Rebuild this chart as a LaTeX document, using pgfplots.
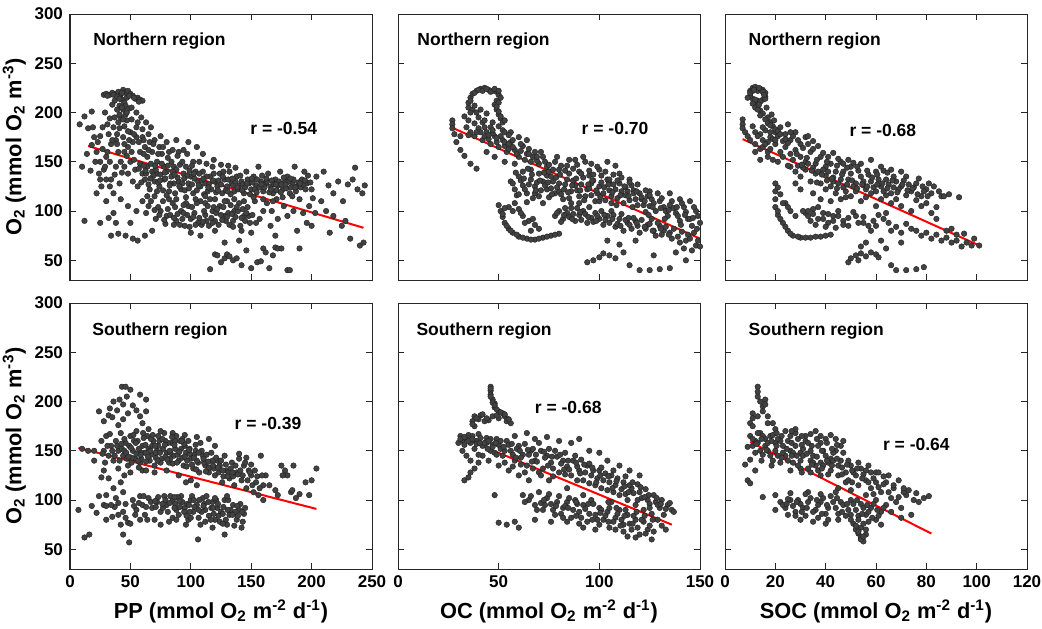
\documentclass[border=0pt]{standalone}
\usepackage{fontspec}
\setmainfont{Liberation Sans}
\usepackage{pgfplots}
\pgfplotsset{compat=1.18}

\pgfplotsset{
  panel/.style={
    scale only axis, width=151pt, height=133pt,
    ymin=30, ymax=300, ytick={50,100,...,300},
    tick align=inside, tick pos=both,
    major tick length=3pt,
    axis line style={black!85, line width=0.5pt},
    every tick/.style={black!85, line width=0.5pt},
    /pgf/number format/assume math mode=true,
    tick label style={font=\bfseries\fontsize{8.5}{10}\selectfont},
    label style={font=\bfseries\fontsize{10.9}{12}\selectfont},
    ylabel shift=-2.5pt, xlabel shift=-1pt,
    clip=false,
  },
  pts/.style={only marks, mark=*, mark size=1.4pt,
    mark options={draw=black!88, fill=black!74, line width=0.2pt}},
  fit/.style={red, line width=1pt, no marks},
}
\tikzset{tag/.style={anchor=west, inner sep=0pt, font=\bfseries\fontsize{8.75}{10}\selectfont}}

\begin{document}
\begin{tikzpicture}
\useasboundingbox (0,0) rectangle (521pt,314pt);

% ---------------- top row: northern region ----------------
\begin{axis}[panel, at={(35pt,174pt)}, anchor=south west,
  xmin=0, xmax=250, xtick={0,50,...,250}, xticklabels={},
  ylabel={O\textsubscript{2} (mmol O\textsubscript{2} m\textsuperscript{-3})}]
\addplot[pts] coordinates {
(28,218)(30,219)(33,218)(35,220)(38,219)(40,221)(42,218)(44,223)(46,220)(48,222)(50,219)(52,217)(54,214)(56,215)(58,213)(60,212)(43,213)(45,210)(47,215)(41,207)(44,203)(46,198)(42,195)(40,190)(47,192)(45,186)
(8,188)(12,196)(18,201)(15,184)(10,145)(14,158)(18,167)(20,175)(22,160)(25,150)(24,138)(28,142)(30,155)(32,178)(34,168)(36,185)(38,172)(30,132)(34,132)(38,145)(26,125)(22,118)(36,118)(40,160)(42,150)(44,175)(48,165)(50,180)(52,170)(55,185)(58,160)(60,175)(62,165)(64,155)(66,170)(68,160)(70,172)(72,150)(74,165)(76,158)(78,145)(80,170)(82,160)(84,150)(86,145)(88,172)(90,160)(94,162)(98,170)(105,165)(110,158)(102,150)
(45,145)(48,138)(50,150)(52,130)(54,142)(56,125)(58,148)(60,138)(62,132)(64,145)(66,122)(68,140)(70,130)(72,138)(74,125)(76,148)(78,132)(80,140)(82,120)(84,135)(86,128)(88,142)(90,130)(92,122)(94,138)(96,145)(98,128)(100,135)(102,118)(104,140)(106,130)(108,125)(110,140)(112,128)(114,120)(116,135)(118,145)(120,130)(122,125)(124,138)(126,118)(128,132)(130,125)(132,140)(134,128)(136,120)(138,135)(140,126)(142,130)(144,118)(146,140)(148,128)(150,122)(152,135)(154,126)(156,145)(158,130)(160,120)(162,128)(164,138)(166,125)(168,118)(170,132)(172,126)(174,140)(176,122)(178,130)(180,135)(182,118)(184,128)(186,145)(188,125)(190,112)(192,132)(194,140)(196,128)(198,105)(200,122)(204,135)(208,110)(210,140)(214,126)(218,118)(222,130)(226,110)(230,127)(234,132)(238,122)(242,118)(236,144)(244,126)
(212,100)(218,95)(225,85)(232,72)(240,65)(243,68)(203,98)(196,88)(188,80)(180,95)(172,92)(166,85)(160,100)(154,88)(148,95)(142,80)(135,90)
(60,110)(65,105)(70,115)(75,100)(80,95)(85,108)(88,90)(92,100)(95,85)(98,105)(100,92)(103,98)(106,88)(108,110)(112,96)(115,85)(118,100)(120,90)(124,105)(128,95)(130,110)(132,86)(136,100)(140,108)(144,95)(112,108)(116,112)(96,114)(82,112)(55,100)(48,105)(42,112)(36,98)(30,110)(50,88)(38,88)
(12,90)(25,88)(32,93)(34,75)(40,77)(46,75)(52,72)(56,70)(62,75)(68,80)(100,78)(108,75)(120,80)(128,68)(140,70)(150,78)(160,62)(170,75)(190,62)(200,85)(215,78)(228,90)
(116,41)(120,56)(122,55)(125,48)(128,52)(130,56)(132,54)(135,50)(138,52)(142,45)(146,60)(150,42)(155,48)(158,49)(162,58)(165,42)(170,63)(172,62)(175,62)(180,40)(182,40)(168,55)
(31,217)(36,218)(39,216)(43,220)(49,217)(53,215)(57,211)(37,212)(41,214)(46,207)(49,204)(44,193)(41,184)(48,181)(39,178)(35,172)(31,160)(27,163)(21,150)(17,141)(25,132)(33,125)(37,137)(41,128)(43,139)(47,156)(51,160)(53,152)(57,143)(59,129)(61,146)(63,138)(65,127)(67,148)(69,136)(71,142)(73,129)(75,137)(77,121)(79,133)(81,146)(83,128)(85,140)(87,118)(89,134)(91,147)(93,128)(95,121)(97,136)(99,141)(101,127)(103,133)(105,121)(107,138)(109,131)(111,117)(113,135)(115,127)(117,122)(119,138)(121,119)(123,131)(125,127)(127,140)(129,121)(131,132)(133,117)(135,126)(137,130)(139,122)(141,136)(143,127)(145,124)(147,132)(149,117)(151,129)(153,122)(155,132)(157,124)(159,136)(161,124)(163,130)(165,119)(167,131)(169,127)(171,121)(173,130)(175,127)(177,134)(179,123)(181,130)(183,124)(185,132)(187,120)(189,129)(191,124)(193,127)(195,122)(197,136)(199,129)(201,113)
(63,98)(67,110)(71,92)(73,104)(77,110)(79,87)(83,96)(87,104)(89,97)(91,86)(93,92)(97,96)(99,84)(101,104)(105,108)(107,93)(109,86)(111,100)(113,90)(117,93)(119,104)(121,98)(123,86)(125,96)(127,104)(129,90)(131,98)(133,106)(135,84)(137,94)(139,100)(141,85)(143,102)(145,90)(147,104)(149,88)(151,96)(153,110)(157,92)(163,108)(167,100)(171,112)(177,105)(185,100)(193,98)
(57,170)(61,158)(65,162)(69,168)(73,158)(77,165)(81,154)(85,162)(89,156)(93,150)(97,158)(101,146)(107,150)(113,148)(119,152)(125,147)(131,146)(137,144)(75,176)(65,178)(55,175)(45,168)(51,193)(56,190)(60,183)
(62.5,141)(66.5,133)(70.5,146)(74.5,131)(78.5,139)(82.5,126)(86.5,137)(90.5,125)(94.5,133)(98.5,123)(102.5,138)(106.5,126)(110.5,133)(114.5,124)(118.5,131)(122.5,121)(126.5,135)(130.5,120)(134.5,133)(138.5,124)(142.5,121)(146.5,128)(150.5,133)(154.5,119)(158.5,127)(162.5,133)(166.5,122)(170.5,127)(174.5,119)(178.5,127)(182.5,133)(186.5,124)(190.5,128)(194.5,131)(64,115)(72,120)(80,116)(88,112)(96,108)(104,112)(112,115)(120,112)(128,110)(136,112)(144,110)(152,114)(160,112)(168,110)(176,114)(184,115)
(74,96)(81,102)(86,93)(94,98)(102,94)(110,89)(114,105)(122,102)(126,91)(134,97)(138,104)(146,98)(94,106)(104,86)(118,88)(130,94)(142,93)(86,86)(78,91)(70,101)
(23,170)(27,185)(33,194)(37,195)(39,203)(41,198)(35,208)(29,200)(25,176)(19,185)(31,188)(43,205)(47,200)(51,205)(55,200)(59,195)(63,190)(67,185)(61,172)(53,178)(49,172)(45,160)(39,168)(33,150)(29,145)
};
\addplot[fit] coordinates {(15,166)(243,83)};
\node[tag] at (rel axis cs:0.076,0.9) {Northern region};
\node[tag] at (rel axis cs:0.596,0.571) {r = -0.54};
\end{axis}

\begin{axis}[panel, at={(199pt,174pt)}, anchor=south west,
  xmin=0, xmax=150, xtick={0,50,...,150}, xticklabels={}, yticklabels={}]
\addplot[pts] coordinates {
(35,205)(35,210)(36,215)(37,219)(39,222)(41,224)(43,225)(45,223)(47,222)(49,221)(50,218)(49,212)(48,208)(49,203)(50,198)(51,194)(52,190)(37,203)(39,200)(41,203)(44,199)
(27,192)(27,188)(27,184)(28,178)(29,170)(31,162)(33,156)(36,148)(39,143)(31,176)
(34,185)(36,180)(38,176)(40,184)(42,172)(44,180)(46,168)(48,176)(50,165)(52,172)(54,160)(56,170)(58,162)(60,155)(62,166)(64,158)(66,150)(68,160)(70,148)(72,155)(74,145)(52,182)(56,180)(60,175)(64,172)(44,160)(48,155)(53,150)(58,148)(62,140)(66,142)(70,138)(74,136)(78,150)(80,142)(84,146)(88,152)(92,155)(96,148)(90,140)(100,142)(104,150)(108,146)(110,138)(46,185)(42,190)(40,195)
(56,130)(58,122)(60,135)(62,126)(64,118)(66,132)(68,125)(70,115)(72,130)(74,122)(76,135)(78,118)(80,128)(82,112)(84,132)(86,120)(88,126)(90,115)(92,134)(94,122)(96,128)(98,110)(100,125)(102,118)(104,132)(106,115)(108,122)(110,128)(112,108)(114,120)(116,126)(118,112)(120,118)(122,106)(124,115)(126,112)(128,100)(130,110)(132,104)(134,95)(136,110)(138,98)(140,90)(142,104)(144,92)(146,85)(148,100)(150,88)(75,140)(85,138)(95,136)(105,132)(115,132)(125,120)(135,118)(140,112)(145,110)(80,120)(90,108)(100,110)
(50,106)(51,100)(52,94)(53,88)(55,82)(57,78)(60,74)(64,72)(68,71)(72,73)(76,75)(80,77)(55,104)(58,108)(60,102)(62,95)(65,90)(68,86)(66,80)(70,82)
(78,95)(80,100)(82,92)(84,98)(86,103)(88,90)(90,96)(92,100)(94,88)(96,93)(98,98)(100,92)(102,86)(104,95)(106,100)(108,84)(110,92)(112,80)(114,88)(116,82)(118,90)(120,78)(124,86)(128,75)(132,80)(136,72)(140,68)(144,76)(148,65)(150,64)(142,62)(146,60)(130,85)(126,92)
(94,48)(97,50)(100,53)(102,57)(105,55)(108,52)(112,58)(115,45)(120,40)(125,40)(130,41)(135,42)(127,55)(138,58)(143,50)(110,66)(104,70)(118,70)
(36,212)(38,220)(40,223)(42,222)(44,224)(46,221)(48,224)(50,222)(51,215)(50,210)(49,206)(50,201)(51,196)(53,192)(38,207)(36,200)(33,196)(35,192)(38,189)(43,192)(47,190)(50,186)(53,180)(55,177)
(41,180)(43,176)(45,173)(47,179)(49,170)(51,176)(53,166)(55,163)(57,172)(59,158)(61,161)(63,152)(65,163)(67,155)(69,151)(71,160)(73,150)(75,147)(77,142)(79,155)(81,146)(83,141)(85,152)(87,143)(89,147)(91,138)(93,150)(95,141)(97,137)(99,145)(101,136)(103,140)(105,128)(107,137)(109,131)(111,134)(113,124)(115,129)(117,121)(119,127)(121,112)(123,121)(125,116)(127,108)(129,118)(131,113)(133,100)(135,106)(137,103)(139,95)(141,108)(143,99)(145,92)(147,104)(149,95)
(57,128)(59,116)(61,131)(63,122)(65,127)(67,113)(69,129)(71,121)(73,126)(75,114)(77,130)(79,124)(81,117)(83,127)(85,113)(87,131)(89,121)(91,127)(93,115)(95,123)(97,131)(99,118)(101,129)(103,111)(105,121)(107,127)(109,113)(111,120)(113,116)(115,111)(117,118)(119,106)(121,114)(123,99)(125,105)(60,117)(64,109)(68,118)(72,108)(76,123)(86,108)(96,116)(106,108)
(79,98)(81,89)(83,103)(85,94)(87,97)(89,103)(91,91)(93,97)(95,104)(97,89)(99,95)(101,100)(103,91)(105,88)(107,96)(109,87)(111,97)(113,91)(115,86)(117,93)(119,85)(121,91)(123,82)(125,87)(127,80)(129,88)(131,76)(133,84)(135,78)(137,82)(139,74)(141,79)(143,70)(145,72)(147,78)(149,70)
(54,85)(56,80)(59,76)(62,73)(66,71)(70,72)(74,74)(78,76)(52,97)(53,103)(57,100)(61,98)(63,88)(67,92)
(58.5,139)(62.5,133)(66.5,137)(70.5,131)(74.5,129)(78.5,134)(82.5,122)(86.5,126)(90.5,121)(94.5,127)(98.5,121)(102.5,124)(106.5,119)(110.5,116)(114.5,115)(118.5,120)(122.5,110)(126.5,104)(130.5,103)(134.5,101)(138.5,104)(142.5,96)(146.5,93)(68.5,121)(76.5,117)(84.5,119)(92.5,111)(100.5,114)(108.5,106)(116.5,104)(124.5,96)(132.5,92)(140.5,86)(148.5,82)(64.5,143)(72.5,139)(80.5,137)(88.5,133)(96.5,131)(104.5,127)(112.5,125)
(82.5,96)(86.5,92)(90.5,99)(94.5,94)(98.5,90)(102.5,96)(106.5,92)(110.5,85)(114.5,93)(118.5,88)(122.5,84)(126.5,80)(130.5,82)(134.5,76)
(45,177)(49,174)(53,170)(57,165)(61,168)(65,158)(69,155)(43,185)(39,180)(35,177)(47,182)(55,168)
};
\addplot[fit] coordinates {(26.5,185)(150,72)};
\node[tag] at (rel axis cs:0.063,0.9) {Northern region};
\node[tag] at (rel axis cs:0.607,0.571) {r = -0.70};
\end{axis}

\begin{axis}[panel, at={(362.5pt,174pt)}, anchor=south west,
  xmin=0, xmax=120, xtick={0,20,...,120}, xticklabels={}, yticklabels={}]
\addplot[pts] coordinates {
(10,222)(11,225)(12,224)(13,222)(15,223)(16,220)(16,216)(15,213)(13,212)(11,214)(10,217)(12,210)(13,206)(14,202)(15,199)(17,195)(18,190)(19,186)(9,215)
(7,193)(7,188)(7,184)(8,180)(9,176)(10,172)(12,168)(14,163)
(11,186)(12,180)(14,178)(16,182)(18,175)(20,180)(22,185)(24,178)(25,188)(26,172)(28,180)(30,168)(32,175)(33,176)(35,171)(20,168)(22,160)(24,165)(26,158)(28,162)(30,155)(32,150)(34,160)(36,148)(38,155)(40,145)(17,160)(19,152)(14,152)(12,160)
(26,145)(28,140)(30,135)(32,142)(34,130)(36,138)(38,128)(40,136)(42,125)(44,140)(46,132)(48,120)(50,138)(52,128)(54,135)(56,122)(58,130)(60,140)(62,125)(64,132)(66,118)(68,130)(70,125)(72,135)(74,120)(76,128)(78,115)(80,122)(82,118)(42,148)(46,150)(50,145)(54,148)(58,152)(62,145)(66,142)(70,140)(38,112)(42,110)(46,112)(50,115)(54,110)(58,118)(62,112)(66,108)(70,105)(74,100)(78,105)(82,98)(60,105)(64,98)(35,118)(30,122)(28,128)
(20,128)(20,120)(20,112)(20,104)(21,96)(23,88)(25,80)(27,75)(30,73)(34,73)(38,74)(42,76)(24,108)(26,100)(28,95)(32,98)(34,90)(36,86)
(31,100)(33,95)(35,102)(37,92)(39,98)(41,88)(43,95)(45,100)(47,90)(49,85)(44,83)(40,84)(52,95)(55,88)(58,80)(60,85)(63,92)(66,80)(70,78)(74,82)(78,75)(82,72)(86,70)(90,68)(94,64)(98,65)(101,65)(88,80)(92,76)(84,92)(86,115)(93,114)
(49,48)(50,52)(52,55)(54,57)(56,54)(58,58)(60,56)(61,53)(53,50)(66,45)(68,40)(72,40)(76,41)(79,43)(64,62)(70,68)(62,70)(56,68)(54,64)
(10,220)(11,222)(12,226)(14,224)(15,221)(16,214)(14,211)(12,213)(11,209)(12,205)(13,203)(14,197)(16,193)(17,189)(18,187)(20,183)(21,181)
(13,176)(15,172)(17,170)(19,173)(21,176)(23,171)(25,169)(27,176)(29,172)(31,164)(33,168)(35,163)(37,166)(39,159)(41,155)(43,159)(45,153)(47,148)(49,152)(51,149)(15,165)(17,155)(21,150)(23,155)(25,146)(27,152)(29,146)(31,144)(33,148)(35,144)(37,140)
(39,142)(41,140)(43,134)(45,128)(47,140)(49,132)(51,125)(53,141)(55,130)(57,137)(59,124)(61,132)(63,141)(65,127)(67,135)(69,122)(71,131)(73,127)(75,124)(77,133)(79,120)(81,128)(83,125)(85,120)(87,115)(89,117)(40,122)(44,118)(48,114)(52,120)(56,114)(60,120)(64,116)(68,112)(72,116)(76,111)(80,108)(84,104)(43,130)(47,124)(55,126)(63,120)(67,124)
(33,100)(35,97)(37,104)(39,92)(41,97)(43,90)(45,95)(47,86)(49,93)(51,99)(53,88)(55,94)(57,85)(59,90)(61,96)(65,88)(68,84)(72,87)(76,80)(80,78)(84,76)(88,73)(92,70)(96,68)(90,82)(95,77)(99,72)
(21,100)(22,92)(24,84)(26,77)(29,74)(32,73)(36,74)(40,75)(22,117)(21,124)(23,108)(25,104)
(30.5,147)(34.5,141)(38.5,137)(42.5,133)(46.5,137)(50.5,131)(54.5,127)(58.5,134)(62.5,128)(66.5,131)(70.5,127)(74.5,123)(78.5,125)(36.5,129)(40.5,131)(44.5,123)(48.5,127)(52.5,123)(56.5,125)(60.5,127)(64.5,123)(68.5,119)(72.5,121)(76.5,117)(80.5,115)(28.5,158)(32.5,154)(36.5,152)(40.5,150)(44.5,146)(48.5,144)(52.5,145)(56.5,141)(60.5,137)(64.5,139)
(11.5,223)(13.5,225)(15.5,218)(13.5,208)(16.5,205)(18.5,198)(19.5,192)
(15,185)(18,180)(22,178)(26,180)(20,172)(24,173)(16,168)(18,163)
};
\addplot[fit] coordinates {(7,173)(101.5,64.5)};
\node[tag] at (rel axis cs:0.077,0.9) {Northern region};
\node[tag] at (rel axis cs:0.411,0.562) {r = -0.68};
\end{axis}

% ---------------- bottom row: southern region ----------------
\begin{axis}[panel, at={(35pt,29.5pt)}, anchor=south west,
  xmin=0, xmax=250, xtick={0,50,...,250},
  xlabel={PP (mmol O\textsubscript{2} m\textsuperscript{-2} d\textsuperscript{-1})},
  ylabel={O\textsubscript{2} (mmol O\textsubscript{2} m\textsuperscript{-3})}]
\addplot[pts] coordinates {
(43,215)(46,215)(50,212)(58,207)(63,202)(41,202)(44,197)(39,191)(33,193)(32,186)(28,180)(24,190)(55,191)(63,190)(48,188)(52,196)(47,205)(36,200)(35,184)(44,182)(58,185)(60,178)(40,176)
(26,160)(28,150)(30,165)(32,145)(34,155)(36,140)(38,160)(40,150)(42,168)(44,145)(46,158)(48,135)(50,165)(52,150)(54,142)(56,160)(58,138)(60,155)(62,148)(64,165)(66,140)(68,155)(70,135)(72,150)(74,160)(76,142)(78,168)(80,148)(82,138)(84,158)(86,145)(88,165)(90,140)(92,152)(94,135)(96,148)(98,160)(100,142)(102,132)(104,150)(106,138)(108,158)(110,145)(55,170)(65,172)(75,170)(85,168)(95,166)(105,164)(60,130)(70,128)(80,130)(90,125)(50,128)(40,132)(45,125)(115,162)(120,155)(122,140)(112,135)
(115,128)(118,140)(120,125)(124,135)(126,118)(128,145)(130,130)(132,122)(134,138)(136,115)(138,128)(140,142)(142,120)(144,135)(146,112)(148,130)(150,125)(152,108)(154,118)(156,105)(158,145)(160,115)(100,120)(105,115)(96,118)
(52,100)(55,90)(58,104)(60,95)(62,85)(65,102)(68,92)(70,80)(72,98)(75,88)(78,104)(80,95)(82,78)(85,100)(88,90)(90,85)(92,104)(95,92)(98,80)(100,100)(102,88)(105,95)(108,75)(110,102)(112,90)(115,84)(118,98)(120,80)(122,92)(125,88)(128,100)(130,75)(132,85)(135,95)(138,80)(140,90)(142,72)(144,86)(128,65)(118,72)(106,60)(96,75)(85,82)(75,75)
(7,90)(12,62)(16,65)(18,94)(22,87)(24,104)(28,95)(30,80)(32,122)(35,83)(37,93)(40,97)(42,75)(44,65)(46,96)(48,77)(49,57)(36,112)(44,108)(42,118)(20,150)(15,150)(10,152)(30,105)(38,102)(26,123)(28,130)(20,140)
(162,125)(165,115)(170,110)(175,135)(178,130)(180,125)(183,108)(185,135)(187,102)(190,106)(195,118)(198,105)(200,120)(204,132)(172,105)(176,125)(184,110)(146,143)(150,136)(140,147)(155,124)(160,100)
(27,147)(29,138)(31,155)(33,167)(35,150)(37,145)(39,155)(41,140)(43,152)(45,162)(47,142)(49,155)(51,138)(53,160)(55,147)(57,152)(59,142)(61,163)(63,139)(65,152)(67,146)(69,160)(71,143)(73,155)(75,138)(77,152)(79,144)(81,158)(83,148)(85,137)(87,152)(89,146)(91,160)(93,143)(95,155)(97,140)(99,152)(101,136)(103,146)(105,140)(107,128)(109,150)(111,138)(113,146)(115,133)(117,148)(119,132)(121,143)(123,128)(125,140)(127,124)(129,136)(131,128)(133,132)(135,124)(137,135)(139,126)(141,130)(143,125)(145,138)(147,120)(149,128)(151,115)(153,130)(157,112)(159,125)(51,143)(57,133)(63,130)(67,162)(73,165)(79,160)(87,160)(93,162)(99,147)(59,148)(45,150)(71,148)(83,142)(95,144)(104,156)
(53,94)(57,97)(61,104)(63,93)(67,98)(71,93)(73,103)(77,92)(79,100)(81,88)(83,104)(87,96)(89,103)(91,93)(93,98)(97,96)(99,88)(101,104)(103,93)(107,100)(109,88)(111,96)(113,104)(117,92)(119,86)(121,100)(123,84)(127,93)(129,80)(131,100)(133,90)(137,88)(139,84)(141,96)(143,78)(145,92)(112,78)(124,78)(136,74)(100,82)(88,80)(64,80)(120,102)(130,104)
(44,88)(46,82)(50,76)(54,85)(58,80)(40,85)(34,95)(30,94)
(42.5,157)(46.5,148)(50.5,153)(54.5,158)(58.5,146)(62.5,156)(66.5,150)(70.5,155)(74.5,148)(78.5,156)(82.5,150)(86.5,156)(90.5,149)(94.5,157)(98.5,151)(102.5,143)(106.5,148)(110.5,142)(114.5,139)(118.5,135)(122.5,133)(126.5,130)(130.5,124)(134.5,128)(48.5,144)(56.5,140)(64.5,144)(72.5,140)(80.5,141)(88.5,138)(96.5,134)(104.5,131)(112.5,129)(52.5,166)(60.5,168)(68.5,166)(76.5,162)(84.5,164)(92.5,160)
(70.5,99)(76.5,96)(82.5,97)(86.5,92)(90.5,99)(94.5,88)(98.5,95)(102.5,100)(106.5,90)(110.5,94)(114.5,98)(118.5,92)(122.5,96)(126.5,86)(130.5,90)(134.5,85)(138.5,94)(142.5,88)(106.5,82)(116.5,80)(126.5,76)(96.5,84)(86.5,103)
};
\addplot[fit] coordinates {(7,153)(204,91)};
\node[tag] at (rel axis cs:0.073,0.893) {Southern region};
\node[tag] at (rel axis cs:0.544,0.546) {r = -0.39};
\end{axis}

\begin{axis}[panel, at={(199pt,29.5pt)}, anchor=south west,
  xmin=0, xmax=150, xtick={0,50,...,150}, yticklabels={},
  xlabel={OC (mmol O\textsubscript{2} m\textsuperscript{-2} d\textsuperscript{-1})}]
\addplot[pts] coordinates {
(46,215)(46,211)(46,207)(47,202)(48,198)(48,194)(50,190)(52,188)(47,185)(45,181)(41,186)(38,185)(38,175)(37,180)(40,182)(50,183)(54,180)(56,178)(43,180)(53,185)(49,186)
(31,165)(32,160)(33,156)(34,162)(35,166)(36,158)(37,165)(38,152)(39,160)(40,167)(42,155)(44,163)(46,150)(30,158)(36,128)(35,123)(38,132)(33,120)(40,138)
(44,158)(46,162)(48,148)(50,156)(52,145)(54,160)(56,150)(58,140)(60,155)(62,146)(64,135)(66,150)(68,140)(70,158)(72,132)(74,145)(76,138)(78,150)(80,128)(82,140)(84,134)(86,125)(88,145)(90,130)(92,120)(94,135)(96,125)(98,115)(100,130)(102,120)(104,110)(106,125)(108,115)(110,105)(112,118)(114,100)(116,112)(118,95)(120,108)(122,90)(124,100)(126,86)(128,98)(130,92)(132,85)(134,95)(136,90)(55,130)(60,125)(65,120)(70,128)(75,120)(58,165)(64,168)(68,162)(74,164)(80,160)(86,158)(90,162)(95,150)(100,148)(84,112)(92,105)(45,140)(50,135)(42,145)(115,130)(120,125)(104,140)(110,135)
(62,105)(65,100)(68,95)(70,108)(72,90)(74,102)(76,96)(78,85)(80,104)(82,92)(84,98)(86,82)(88,100)(90,88)(92,95)(94,78)(96,100)(98,85)(100,92)(102,80)(104,88)(106,98)(108,82)(110,90)(112,75)(114,85)(116,70)(118,80)(120,65)(122,78)(124,70)(126,60)(114,63)(108,70)(100,75)(92,72)(84,78)(76,78)(68,80)
(50,77)(54,75)(58,78)(60,72)(48,105)
(46,213)(46,205)(47,199)(48,196)(49,192)(51,189)(53,187)(55,182)(39,183)(37,177)(42,187)(44,183)
(31,162)(33,164)(35,160)(37,162)(39,157)(41,163)(43,158)(45,160)(47,156)(49,162)(51,152)(32,150)(34,145)(36,140)(40,146)
(47,154)(49,146)(51,160)(53,150)(55,156)(57,146)(59,152)(61,143)(63,157)(65,146)(67,152)(69,139)(71,150)(73,143)(75,152)(77,132)(79,144)(81,137)(83,148)(85,131)(87,140)(89,134)(91,141)(93,128)(95,137)(97,130)(99,122)(101,133)(103,127)(105,118)(107,130)(109,122)(111,111)(113,124)(115,115)(117,107)(119,116)(121,102)(123,111)(125,96)(127,105)(129,95)(131,100)(133,91)(135,97)(137,88)(53,138)(57,134)(61,136)(63,128)(67,132)(71,125)(77,124)(83,126)(89,120)(95,117)(101,112)(107,108)(113,106)(119,100)(125,92)
(63,98)(66,104)(69,90)(71,97)(73,95)(75,106)(77,90)(79,98)(81,86)(83,94)(85,102)(87,90)(89,96)(91,82)(93,91)(95,86)(97,96)(99,80)(101,90)(103,84)(105,92)(107,78)(109,86)(111,80)(113,90)(115,76)(117,84)(119,72)(121,80)(123,66)(125,74)(127,68)(129,80)(131,74)(133,70)(118,62)(112,68)(105,72)(98,70)(90,76)(82,82)
(40.5,158)(44.5,152)(48.5,158)(52.5,154)(56.5,157)(60.5,150)(64.5,151)(68.5,146)(72.5,149)(76.5,144)(80.5,146)(84.5,140)(88.5,138)(92.5,136)(96.5,133)(100.5,125)(104.5,124)(108.5,119)(112.5,114)(116.5,118)(120.5,113)(124.5,105)(128.5,102)(58.5,143)(66.5,139)(74.5,135)(82.5,131)(90.5,127)(98.5,118)(106.5,112)(114.5,108)(122.5,103)(130.5,96)
(72.5,100)(78.5,94)(84.5,92)(88.5,98)(94.5,96)(100.5,87)(104.5,98)(108.5,92)(112.5,84)(118.5,88)(122.5,84)(126.5,80)(116.5,76)(110.5,74)(104.5,78)(96.5,80)(88.5,84)
};
\addplot[fit] coordinates {(31,164)(136,75)};
\node[tag] at (rel axis cs:0.060,0.893) {Southern region};
\node[tag] at (rel axis cs:0.452,0.606) {r = -0.68};
\end{axis}

\begin{axis}[panel, at={(362.5pt,29.5pt)}, anchor=south west,
  xmin=0, xmax=120, xtick={0,20,...,120}, yticklabels={},
  xlabel={SOC (mmol O\textsubscript{2} m\textsuperscript{-2} d\textsuperscript{-1})}]
\addplot[pts] coordinates {
(13,215)(13,210)(13,205)(14,200)(15,195)(15,190)(16,202)(16,197)(17,185)(17,178)(19,178)(11,188)(11,183)(10,178)(11,175)(13,185)(20,172)
(10,165)(12,160)(14,168)(16,155)(18,165)(20,150)(22,160)(24,145)(26,165)(28,155)(30,140)(32,160)(34,150)(36,135)(38,158)(40,145)(42,130)(44,150)(46,140)(48,128)(50,135)(52,125)(54,132)(56,120)(58,128)(60,118)(14,150)(18,145)(22,138)(26,130)(30,148)(34,140)(38,125)(42,142)(46,155)(24,170)(28,168)(32,165)(36,170)(40,162)(44,162)(20,158)(16,162)(12,148)(26,150)(30,132)(34,128)(38,138)
(9,154)(10,141)(9,120)(10,117)(15,103)(12,130)(8,136)
(22,98)(24,92)(26,100)(28,88)(30,96)(32,84)(34,102)(36,90)(38,98)(40,86)(42,104)(44,92)(46,98)(48,84)(50,100)(52,90)(54,96)(56,85)(58,92)(60,80)(62,88)(35,78)(40,76)(45,80)(30,80)(25,85)(20,90)(20,105)(26,107)(33,108)
(45,112)(48,118)(50,110)(53,115)(56,105)(58,112)(60,100)(62,108)(64,95)(66,102)(68,98)(70,92)(72,105)(76,107)(81,104)(64,118)(60,128)(56,130)(66,88)(74,85)(70,82)(62,75)
(51,76)(52,70)(53,66)(54,62)(55,58)(56,65)(54,72)(50,85)
(11,162)(13,158)(13,168)(15,165)(17,158)(19,166)(21,162)(23,155)(25,160)(27,148)(29,162)(31,152)(33,158)(35,145)(37,155)(39,150)(41,138)(43,148)(45,135)(47,148)(49,140)(51,128)(53,138)(55,126)(57,135)(59,122)(61,128)(63,116)(65,125)(67,112)(69,120)(71,108)(73,110)(75,100)(77,98)(79,102)(17,150)(21,145)(25,140)(29,135)(33,132)(37,130)(41,126)(45,125)(49,120)(23,148)(27,138)(31,145)(35,138)(39,135)(43,140)(11,155)(15,146)(19,140)(28,172)(34,167)(42,166)(47,160)(38,165)
(23,95)(25,101)(27,94)(29,100)(31,92)(33,98)(35,88)(37,95)(39,102)(41,92)(43,98)(45,86)(47,95)(49,90)(51,96)(53,84)(55,92)(57,88)(59,96)(61,84)(63,92)(41,80)(50,80)(37,82)(28,84)(32,106)(38,106)(44,108)
(52,74)(53,68)(54,60)(55,63)(56,70)(55,76)(53,80)(57,78)
(12.5,157)(14.5,162)(16.5,151)(18.5,160)(20.5,155)(22.5,165)(24.5,152)(26.5,158)(28.5,145)(30.5,156)(32.5,147)(34.5,155)(36.5,144)(38.5,150)(40.5,140)(42.5,152)(44.5,142)(46.5,133)(48.5,136)(50.5,130)(52.5,132)(54.5,122)(14.5,140)(18.5,135)(22.5,143)(26.5,145)(30.5,128)(34.5,136)(38.5,132)(42.5,135)(46.5,126)(50.5,118)(20.5,168)(26.5,170)(30.5,165)(36.5,162)(40.5,158)(44.5,156)
(24.5,96)(28.5,98)(32.5,92)(36.5,100)(40.5,95)(44.5,102)(48.5,96)(52.5,100)(56.5,95)(60.5,90)(30.5,88)(38.5,86)(46.5,88)(54.5,86)(58.5,82)
(57,118)(61,113)(63,124)(65,108)(67,115)(69,103)(71,112)(59,106)
};
\addplot[fit] coordinates {(10,159)(82,66)};
\node[tag] at (rel axis cs:0.077,0.893) {Southern region};
\node[tag] at (rel axis cs:0.522,0.469) {r = -0.64};
\end{axis}
\end{tikzpicture}
\end{document}
